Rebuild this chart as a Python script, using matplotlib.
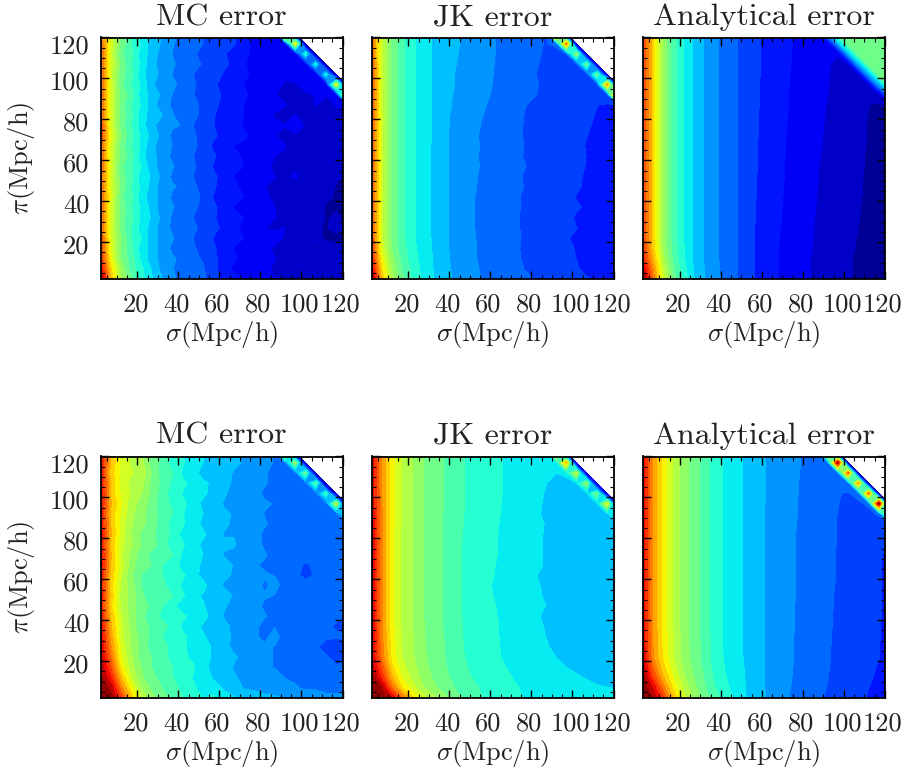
import numpy as np
import matplotlib
matplotlib.use("Agg")
import matplotlib.pyplot as plt
from matplotlib.ticker import MultipleLocator
from matplotlib.transforms import ScaledTranslation

plt.rcParams['font.family'] = ['cmr10', 'DejaVu Serif']
plt.rcParams['mathtext.fontset'] = 'cm'
plt.rcParams['axes.unicode_minus'] = False
plt.rcParams['axes.formatter.use_mathtext'] = True

sigma = [2, 7, 12, 17, 22, 27, 32, 37, 42, 47, 52, 57, 62, 67, 72, 77, 82, 87, 92, 97, 102, 107, 112, 117, 122]
pi_desc = [122, 117, 112, 107, 102, 97, 92, 87, 82, 77, 72, 67, 62, 57, 52, 47, 42, 37, 32, 27, 22, 17, 12, 7, 2]
tick_values = [20, 40, 60, 80, 100, 120]
titles = ['MC error', 'JK error', 'Analytical error', 'MC error', 'JK error', 'Analytical error']

# Values are positions on the colour scale (0-1000), top row = largest pi; -1 = empty
mc_top = [
[800,600,480,420,360,325,285,260,245,225,205,190,170,170,140,125,115,105,950,0,-1,-1,-1,-1,-1],
[800,610,490,420,370,310,290,255,235,215,210,175,170,175,140,115,120,110,105,640,0,-1,-1,-1,-1],
[810,600,470,430,355,320,270,250,250,220,190,185,175,145,130,120,110,100,90,100,390,0,-1,-1,-1],
[810,610,490,420,365,300,285,260,230,225,205,175,175,160,130,105,115,95,105,95,110,370,0,-1,-1],
[820,590,480,430,345,320,275,250,240,210,195,185,165,145,135,115,100,95,90,100,95,100,370,0,-1],
[820,610,470,420,365,300,270,260,240,220,185,175,155,155,125,110,110,95,80,80,95,85,105,620,0],
[830,600,490,440,355,320,285,250,230,210,205,175,165,145,135,105,95,85,75,65,80,85,85,100,720],
[820,610,480,420,370,310,270,245,235,230,195,180,155,145,125,115,95,95,85,75,65,85,75,85,95],
[820,600,490,430,350,320,295,255,225,220,200,170,155,135,125,110,95,80,75,85,75,65,65,80,75],
[830,610,480,420,355,305,270,255,250,210,190,170,145,145,120,100,95,95,85,125,75,75,65,65,65],
[830,620,500,430,365,320,280,245,235,220,185,175,155,135,135,110,105,85,75,75,65,65,60,55,55],
[820,610,480,420,365,300,280,250,225,220,195,160,155,125,115,95,95,85,85,65,65,75,60,55,60],
[810,600,490,440,350,310,270,245,225,210,200,175,145,145,115,105,85,85,75,75,65,60,55,60,50],
[810,610,470,420,375,305,280,255,235,220,185,165,145,135,125,105,95,75,65,75,60,50,55,45,45],
[800,600,480,430,355,330,280,245,225,210,195,175,155,125,115,95,95,85,75,90,60,75,45,45,40],
[810,610,490,420,365,320,270,255,245,220,195,175,145,135,115,105,85,75,70,60,50,50,55,40,35],
[820,620,470,430,355,310,280,245,225,220,205,165,155,135,125,105,95,70,70,60,60,50,45,40,40],
[820,600,490,420,365,320,270,255,235,230,185,175,155,125,105,95,105,85,60,60,55,50,40,40,40],
[820,610,480,430,365,330,280,245,245,210,195,175,145,135,125,95,95,85,70,75,50,55,40,45,35],
[820,600,480,420,355,320,270,245,235,220,195,185,155,135,115,105,85,70,85,60,55,45,40,50,40],
[830,610,500,420,375,310,280,255,225,210,195,165,145,135,125,105,95,115,70,70,50,45,40,35,40],
[840,620,490,430,355,320,270,245,235,220,185,175,145,125,115,95,95,75,60,85,60,40,45,55,45],
[860,640,500,440,365,310,280,255,245,220,205,175,155,135,105,115,85,85,70,60,50,50,50,55,45],
[910,680,530,440,385,330,280,255,225,220,215,175,155,115,125,105,95,75,70,70,60,50,50,50,50],
[980,710,550,470,395,340,295,255,245,220,215,195,155,145,125,115,105,85,85,75,60,60,60,50,50],
]

jk_top = [
[800,590,490,430,385,357,330,310,300,289,275,264,252,242,232,222,214,208,980,0,-1,-1,-1,-1,-1],
[800,590,490,430,385,357,330,310,300,289,275,264,252,242,232,222,214,208,215,780,0,-1,-1,-1,-1],
[800,590,490,430,385,357,330,308,298,287,275,264,252,242,232,222,214,206,200,210,520,0,-1,-1,-1],
[810,590,490,430,385,357,330,308,296,285,272,262,251,241,230,220,212,204,198,190,205,470,0,-1,-1],
[810,590,490,430,385,357,330,306,294,283,270,260,250,240,229,218,210,202,196,188,182,195,470,0,-1],
[810,590,490,430,385,357,330,306,294,283,272,262,248,240,229,216,212,204,196,188,180,176,192,740,0],
[810,590,490,430,385,357,330,305,292,280,268,258,246,238,228,214,210,204,196,188,180,176,170,185,960],
[810,590,490,430,385,357,330,305,290,277,265,254,242,234,224,210,204,198,192,186,178,174,168,165,160],
[815,590,490,430,385,357,330,305,286,272,260,250,238,228,218,208,200,194,188,182,176,172,166,162,158],
[815,590,490,430,385,357,330,305,284,270,258,247,236,226,217,207,200,194,188,181,175,170,164,158,154],
[815,590,490,430,385,357,330,305,283,268,256,245,236,224,216,207,200,193,187,180,174,168,162,157,152],
[820,590,490,430,385,355,330,305,282,268,257,246,235,226,217,208,200,193,187,180,173,166,160,156,152],
[820,590,490,430,385,355,330,305,282,267,256,245,235,226,216,207,200,193,187,180,174,167,160,155,150],
[820,590,490,430,385,355,330,305,282,268,257,246,236,227,218,210,202,195,188,181,174,166,158,153,150],
[820,590,490,430,385,355,330,305,282,267,255,244,234,224,216,206,199,193,187,180,172,164,160,155,150],
[820,590,490,430,385,355,330,305,282,266,254,243,234,224,217,208,200,194,188,181,171,163,156,153,150],
[820,590,490,430,385,355,330,305,280,264,252,242,232,223,214,205,198,191,185,176,166,162,158,153,150],
[820,590,490,430,385,355,330,305,280,264,252,242,232,223,214,205,198,191,185,177,170,165,158,153,150],
[820,590,490,430,385,355,330,305,280,264,252,242,232,222,213,204,197,190,184,175,164,160,158,153,150],
[825,590,490,430,385,355,330,305,280,265,252,242,232,222,213,205,198,190,183,176,168,162,157,152,150],
[830,595,490,430,385,355,330,305,282,265,253,243,233,223,214,206,198,191,183,170,162,158,154,150,150],
[845,610,500,435,390,358,332,306,282,266,254,243,233,224,214,204,198,190,183,175,165,158,154,150,150],
[870,640,515,445,395,360,333,307,284,267,254,244,234,224,215,205,200,192,185,176,167,158,154,150,150],
[920,670,535,455,405,365,335,310,287,270,256,246,236,227,218,208,202,195,186,178,170,160,155,152,152],
[985,700,555,470,412,370,338,312,290,273,258,248,240,230,222,214,208,200,192,184,176,170,165,162,160],
]

an_top = [
[830,680,530,435,375,325,290,260,238,214,195,175,160,146,133,120,112,100,280,490,490,510,510,490,490],
[830,680,530,435,375,325,290,260,238,214,195,175,160,146,133,120,110,100,90,280,490,490,490,490,490],
[830,680,530,435,375,325,290,260,238,214,195,175,160,146,132,119,108,98,88,85,280,490,490,490,490],
[830,680,530,435,375,325,290,260,238,214,195,175,160,146,131,118,107,97,87,77,80,280,490,490,490],
[830,680,530,435,375,325,290,260,238,214,195,174,159,145,130,117,106,96,86,76,66,75,280,490,490],
[830,680,530,435,375,325,290,260,238,214,195,173,158,145,129,116,105,95,85,74,64,54,70,280,490],
[830,680,530,435,375,325,290,260,238,214,195,172,158,145,128,115,104,94,84,73,63,53,43,65,280],
[830,680,530,435,375,325,290,260,238,214,195,172,158,145,128,115,103,92,82,72,62,52,43,33,60],
[830,680,530,435,375,325,290,260,238,214,195,172,157,144,127,114,102,91,81,71,61,51,41,32,22],
[830,680,530,435,375,325,290,260,238,214,195,171,157,143,126,113,101,90,80,70,60,50,40,31,22],
[830,680,530,435,375,325,290,260,238,214,195,171,156,142,125,112,100,89,79,70,60,50,40,31,22],
[830,680,530,435,375,325,290,260,238,214,195,170,156,141,124,111,99,88,79,69,60,49,39,30,22],
[830,680,530,435,375,325,290,260,238,214,195,170,155,140,123,110,98,86,78,69,60,48,38,30,22],
[830,680,530,435,375,325,290,260,238,214,195,170,155,139,122,109,97,85,77,68,59,47,38,29,21],
[830,680,530,435,375,325,290,260,238,214,195,169,154,138,122,108,96,85,76,67,58,46,37,29,20],
[830,680,530,435,375,325,290,260,238,214,195,168,153,137,121,107,95,84,75,66,57,46,36,28,19],
[830,680,530,435,375,325,290,260,238,214,195,168,153,136,120,106,94,83,74,65,56,45,36,27,18],
[830,680,530,435,375,325,290,260,238,214,195,167,152,135,119,105,93,82,73,64,55,44,35,26,17],
[830,680,530,435,375,325,290,260,238,214,194,166,151,133,118,104,92,81,72,62,54,43,34,25,16],
[830,680,530,435,375,325,290,260,238,214,193,165,150,132,117,103,91,80,71,61,52,42,33,24,15],
[835,680,530,435,375,325,290,260,238,214,192,164,149,130,116,102,90,79,70,60,50,40,32,23,14],
[845,690,535,440,378,325,290,260,238,214,191,163,148,129,115,101,89,78,69,59,48,39,30,22,13],
[870,715,550,445,380,325,290,260,238,214,190,163,148,128,114,100,87,77,68,57,46,36,28,20,12],
[930,750,575,460,390,330,292,262,238,214,190,163,148,128,114,100,87,77,68,57,46,36,28,20,12],
[985,780,600,480,400,335,295,265,240,214,190,163,148,128,114,100,87,77,68,57,46,36,28,20,12],
]

mc_bot = [
[900,700,610,570,540,490,440,410,375,355,335,330,310,300,285,270,265,250,640,0,-1,-1,-1,-1,-1],
[900,710,620,580,560,480,450,400,385,350,335,320,300,300,290,275,255,250,245,530,0,-1,-1,-1,-1],
[890,690,620,590,575,500,440,420,370,345,325,310,310,290,285,275,255,240,240,240,470,0,-1,-1,-1],
[900,710,610,575,560,490,450,410,385,365,340,330,300,290,270,265,255,240,230,230,240,440,0,-1,-1],
[910,700,620,580,545,490,440,400,375,345,350,310,300,280,280,265,245,230,230,240,220,230,420,0,-1],
[900,720,630,560,530,480,440,410,385,365,320,310,290,290,270,255,255,250,230,220,220,230,230,570,0],
[890,700,620,560,510,490,435,420,380,355,335,330,300,290,265,265,250,240,220,230,220,220,215,230,420],
[900,710,610,550,520,470,450,400,385,345,330,310,310,280,270,255,255,240,230,220,220,215,215,225,205],
[910,720,610,540,490,470,440,410,360,355,340,320,290,290,280,265,245,230,240,220,220,215,225,215,215],
[900,700,600,550,500,480,440,395,385,345,330,310,300,300,265,265,245,250,230,230,215,225,215,225,215],
[900,720,590,530,480,450,450,420,370,360,335,330,290,280,270,275,255,240,220,230,225,215,215,215,210],
[910,710,610,520,470,460,420,405,360,345,330,310,310,290,280,255,245,230,230,220,205,215,225,215,225],
[890,700,590,510,460,440,420,390,385,355,320,320,300,290,270,265,255,250,240,220,195,215,215,225,215],
[880,690,580,520,460,440,430,400,370,365,350,310,290,280,270,265,245,260,240,230,230,215,225,235,215],
[900,700,570,530,470,430,420,420,385,345,330,330,310,290,265,255,255,250,225,230,225,225,215,215,215],
[870,680,580,520,480,450,420,390,355,350,340,310,300,280,280,265,245,250,230,225,215,225,225,225,205],
[890,710,590,530,470,440,410,400,385,365,350,320,290,290,270,255,255,240,240,225,225,215,215,215,215],
[910,720,600,520,480,450,430,410,370,345,330,320,310,280,265,265,235,250,230,235,225,215,215,205,195],
[920,740,600,540,480,450,420,390,385,365,340,320,300,290,280,255,245,260,240,225,225,215,215,215,215],
[930,760,620,540,490,440,430,410,390,355,350,330,310,280,270,265,255,250,230,235,225,215,195,185,195],
[940,790,630,550,480,460,440,400,390,365,350,330,300,300,280,265,255,250,240,225,225,215,215,195,205],
[960,830,660,560,500,460,430,420,390,385,340,330,310,290,270,275,255,250,250,235,225,215,215,215,215],
[980,880,710,590,510,470,450,420,400,375,360,330,320,300,280,275,265,260,250,245,235,225,225,215,225],
[1000,950,770,640,540,490,460,430,410,385,360,360,330,310,290,285,275,270,260,255,245,245,235,235,235],
[1000,990,850,700,580,520,480,450,420,400,375,385,350,340,320,315,305,300,290,285,275,275,265,265,265],
]

jk_bot = [
[910,750,640,580,545,505,480,462,440,420,405,395,385,375,365,358,350,345,680,0,-1,-1,-1,-1,-1],
[910,750,640,580,545,505,480,462,440,420,405,395,385,375,365,358,350,345,350,720,0,-1,-1,-1,-1],
[910,750,640,580,545,505,480,462,440,420,405,395,385,375,365,355,348,340,335,345,580,0,-1,-1,-1],
[910,750,640,580,545,505,480,462,440,420,405,395,385,375,364,354,345,336,325,322,335,520,0,-1,-1],
[915,755,640,580,545,505,480,462,440,420,405,395,385,374,363,352,343,333,322,320,318,330,480,0,-1],
[915,755,640,580,545,505,480,462,440,420,405,395,384,373,362,350,342,331,320,318,316,315,332,620,0],
[920,760,640,580,545,505,478,460,438,419,405,394,383,372,360,350,340,330,320,318,316,314,316,330,400],
[920,760,640,580,545,505,478,460,437,418,405,392,382,370,358,348,340,334,330,326,322,320,318,316,314],
[920,760,640,575,545,505,478,460,435,416,404,390,380,368,358,348,340,333,328,325,322,320,318,316,314],
[920,760,640,575,545,505,478,460,435,415,403,390,380,368,358,348,340,333,328,325,320,318,315,312,310],
[920,760,640,575,545,505,478,460,435,415,403,390,380,368,358,348,340,333,328,325,320,318,315,312,310],
[920,760,640,575,545,505,478,460,435,415,403,390,378,366,358,348,340,333,328,325,320,318,315,312,308],
[920,760,640,575,545,505,478,460,435,415,403,388,376,365,357,347,336,328,325,322,320,318,315,312,308],
[920,760,640,575,545,505,478,460,435,415,403,388,372,362,356,347,339,330,326,322,320,318,315,312,308],
[920,760,640,575,545,505,478,460,435,415,403,388,375,365,356,347,340,332,327,323,320,318,315,312,310],
[920,760,640,575,545,505,478,460,435,415,403,390,378,368,358,348,340,335,328,324,320,318,315,312,310],
[920,760,640,575,545,505,478,460,435,415,403,390,380,368,358,348,340,328,325,322,320,318,315,312,310],
[920,760,640,578,545,507,480,460,436,416,404,392,382,370,360,350,342,333,327,323,320,318,315,312,310],
[925,765,645,580,547,508,482,462,437,417,405,393,382,370,360,352,343,335,329,325,321,318,316,314,312],
[928,772,650,582,548,510,483,463,438,418,406,394,383,371,361,353,344,337,331,326,322,319,317,315,313],
[930,780,655,585,550,512,485,465,440,420,407,395,384,372,362,354,345,340,335,328,324,320,318,316,315],
[955,820,680,600,560,520,490,468,445,424,410,398,388,378,368,358,350,344,340,335,330,325,320,318,316],
[985,870,720,625,575,530,498,475,452,430,415,403,392,384,374,365,356,350,346,342,338,333,328,324,320],
[1000,960,790,670,605,550,512,485,462,440,425,412,400,390,380,372,365,360,355,350,346,342,338,336,333],
[1000,1000,920,790,680,605,560,522,485,455,430,415,405,395,382,375,368,362,358,354,350,348,346,344,342],
]

an_bot = [
[900,740,650,580,520,480,445,395,370,350,330,312,293,278,264,255,245,240,620,0,-1,-1,-1,-1,-1],
[900,740,650,580,520,480,445,395,370,350,330,312,293,278,264,255,245,240,250,980,0,-1,-1,-1,-1],
[900,740,650,580,520,480,445,395,370,350,330,312,293,278,264,254,244,236,228,245,800,0,-1,-1,-1],
[900,740,650,580,520,480,445,395,370,350,330,312,292,277,263,253,242,232,222,218,240,740,0,-1,-1],
[900,740,650,580,520,480,445,395,370,350,330,311,292,277,263,253,241,231,220,212,205,232,790,0,-1],
[900,740,650,580,520,480,445,395,370,350,330,311,291,276,262,252,240,230,218,210,202,196,225,990,0],
[900,740,650,580,520,480,445,395,370,350,330,311,291,276,262,252,239,229,217,209,200,193,186,220,560],
[900,740,650,580,520,480,445,395,370,350,330,310,290,275,261,251,238,228,216,208,199,191,183,176,180],
[900,740,650,580,520,480,445,395,370,350,330,310,290,275,260,250,238,228,216,208,199,190,182,174,168],
[900,740,650,580,520,480,445,395,370,350,330,310,290,275,260,250,238,227,216,208,198,190,181,172,165],
[900,740,650,580,520,480,445,395,370,350,330,310,290,275,260,250,237,227,215,208,198,190,180,171,162],
[900,740,650,580,520,480,445,395,370,350,330,310,290,275,260,250,237,227,215,208,198,190,180,170,160],
[900,740,650,580,520,480,445,395,370,350,330,310,290,275,260,250,237,227,215,208,198,190,180,170,160],
[900,740,650,580,520,480,445,395,370,350,330,310,290,275,260,250,237,227,215,207,197,189,179,170,160],
[900,740,650,580,520,480,445,395,370,350,330,310,290,275,260,250,236,226,214,206,196,188,178,170,160],
[900,740,650,580,520,480,445,395,370,350,330,310,290,275,260,249,236,226,214,206,196,187,178,170,160],
[900,740,650,580,520,480,445,395,370,350,330,310,290,275,260,249,236,225,213,205,195,187,177,170,160],
[900,745,652,580,520,480,445,395,370,350,330,310,290,275,260,249,236,225,213,205,195,186,177,169,159],
[905,748,654,582,522,480,445,396,371,350,330,310,290,274,259,248,235,225,212,205,194,186,176,169,159],
[910,750,656,583,523,481,445,397,371,350,330,310,290,274,259,248,235,224,212,204,194,185,176,168,158],
[920,755,660,585,525,482,445,398,372,350,330,310,290,274,259,248,235,224,212,204,194,185,176,168,158],
[950,790,680,600,535,490,450,402,375,352,332,310,290,273,258,247,234,223,211,203,193,184,174,165,155],
[980,840,715,625,550,500,458,410,380,356,333,310,290,272,257,246,233,222,210,201,191,182,172,162,152],
[1000,910,770,655,575,515,465,420,388,360,335,311,291,271,256,244,231,219,208,198,188,178,168,158,152],
[1000,960,840,700,600,530,480,440,400,368,337,310,292,270,255,240,228,216,205,195,185,175,165,155,150],
]

panels = [mc_top, jk_top, an_top, mc_bot, jk_bot, an_bot]
W, H = 909, 770
lefts = [100.5, 371.5, 643.0]
tops = [37.5, 456.5]
PW, PH = 242.0, 241.5

fig = plt.figure(figsize=(W / 100, H / 100), dpi=100)
levels = np.linspace(0, 1005, 25)
levels[0] = -0.5

for i, (grid, title) in enumerate(zip(panels, titles)):
    col, row = i % 3, i // 3
    ax = fig.add_axes([lefts[col] / W, 1 - (tops[row] + PH) / H, PW / W, PH / H])
    z = np.array(grid, dtype=float)[::-1]
    z = np.ma.masked_less(z, 0)
    ax.contourf(sigma, pi_desc[::-1], z, levels=levels, cmap='jet', vmin=0, vmax=1000, corner_mask=True)
    ax.set_xlim(2, 120)
    ax.set_ylim(2, 120)
    ax.xaxis.set_minor_locator(MultipleLocator(5))
    ax.yaxis.set_minor_locator(MultipleLocator(5))
    ax.tick_params(which='major', direction='in', length=6, width=1.0, top=True, right=True, color='black')
    ax.tick_params(which='minor', direction='in', length=3, width=0.8, top=True, right=True, color='black')
    ax.set_xticks(tick_values)
    ax.set_xticklabels([str(t) for t in tick_values], fontsize=19, color='#222222')
    ax.tick_params(axis='x', which='major', pad=10)
    shift_x = ScaledTranslation(-2 / 100, 0, fig.dpi_scale_trans)
    for lab in ax.get_xticklabels():
        lab.set_transform(lab.get_transform() + shift_x)
    ax.set_xlabel(r'$\sigma$(Mpc/h)', fontsize=19, color='#222222', labelpad=2)
    ax.set_yticks(tick_values)
    if col == 0:
        ax.set_yticklabels([str(t) for t in tick_values], fontsize=19, color='#222222')
        ax.tick_params(axis='y', which='major', pad=8)
        shift_y = ScaledTranslation(0, -2 / 100, fig.dpi_scale_trans)
        shift_top = ScaledTranslation(0, -7 / 100, fig.dpi_scale_trans)
        for lab, t in zip(ax.get_yticklabels(), tick_values):
            lab.set_transform(lab.get_transform() + (shift_top if t == 120 else shift_y))
        ax.set_ylabel(r'$\pi$(Mpc/h)', fontsize=19, color='#222222', labelpad=9)
    else:
        ax.set_yticklabels([])
    for s in ax.spines.values():
        s.set_linewidth(1.3)
    ax.set_title(title, fontsize=23, color='#222222', pad=9)

fig.savefig('out.png', dpi=100)
